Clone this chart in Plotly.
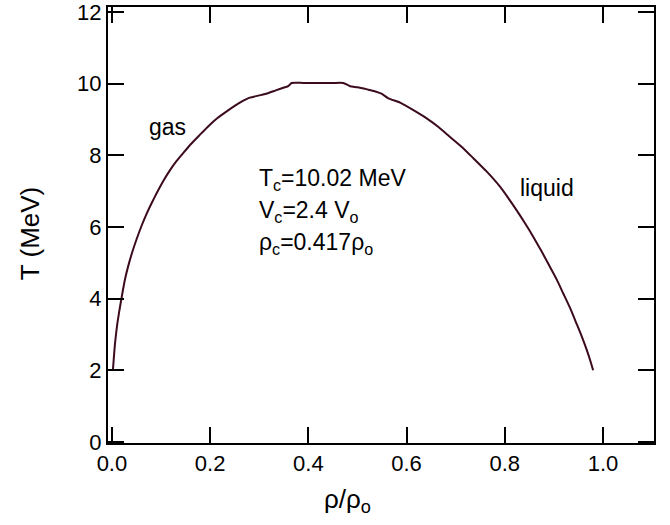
import plotly.graph_objects as go

# coexistence curve (density ratio vs temperature)
rho = [0.002, 0.006, 0.010, 0.015, 0.020, 0.026, 0.033, 0.041, 0.050, 0.060,
       0.071, 0.081, 0.091, 0.104, 0.118, 0.131, 0.145, 0.162, 0.179, 0.197,
       0.215, 0.233, 0.250, 0.264, 0.274, 0.281, 0.296, 0.312, 0.335, 0.352,
       0.359, 0.366, 0.390, 0.420, 0.450, 0.471, 0.485, 0.500, 0.520, 0.535,
       0.549, 0.563, 0.587, 0.614, 0.641, 0.665, 0.688, 0.712, 0.736, 0.763,
       0.790, 0.807, 0.824, 0.841, 0.858, 0.875, 0.892, 0.906, 0.919, 0.933,
       0.946, 0.957, 0.967, 0.974, 0.980]
temp = [2.0, 2.7, 3.2, 3.65, 4.05, 4.5, 4.9, 5.28, 5.65, 6.02,
        6.38, 6.67, 6.94, 7.27, 7.58, 7.83, 8.06, 8.33, 8.57, 8.82,
        9.04, 9.22, 9.38, 9.50, 9.57, 9.61, 9.66, 9.71, 9.82, 9.90,
        9.93, 10.02, 10.02, 10.02, 10.02, 10.02, 9.93, 9.90, 9.84, 9.79,
        9.72, 9.59, 9.47, 9.26, 9.03, 8.79, 8.52, 8.24, 7.92, 7.55,
        7.13, 6.81, 6.47, 6.11, 5.73, 5.32, 4.89, 4.53, 4.15, 3.74,
        3.31, 2.94, 2.57, 2.28, 2.0]

x_ticks = [0.0, 0.2, 0.4, 0.6, 0.8, 1.0]
y_ticks = [0, 2, 4, 6, 8, 10, 12]

FONT = "Liberation Sans, Arial, Helvetica, sans-serif"

fig = go.Figure()
fig.add_trace(go.Scatter(x=rho, y=temp, mode="lines",
                         line=dict(color="#3c0a1e", width=2, shape="spline", smoothing=0.6),
                         showlegend=False, hoverinfo="skip"))

axis_common = dict(showgrid=False, zeroline=False, showline=True,
                   linecolor="black", linewidth=2, mirror="ticks",
                   ticks="inside", ticklen=16, tickwidth=2, tickcolor="black",
                   automargin=False, ticklabeloverflow="allow",
                   tickfont=dict(family=FONT, size=22, color="black"))

fig.update_xaxes(range=[-0.008, 1.104], tickvals=x_ticks,
                 ticktext=[f"{v:.1f}" for v in x_ticks], **axis_common)
fig.update_yaxes(range=[-0.03, 12.14], tickvals=y_ticks,
                 ticktext=[str(v) for v in y_ticks], **axis_common)

title_font = dict(family=FONT, size=26, color="black")
# axis titles
fig.add_annotation(xref="x", yref="paper", x=0.48, y=0, yshift=-57,
                   text="ρ/ρ<sub>o</sub>", showarrow=False, font=title_font,
                   xanchor="center", yanchor="middle")
fig.add_annotation(xref="paper", yref="paper", x=0, y=0.479, xshift=-78,
                   text="T (MeV)", textangle=-90, showarrow=False, font=title_font,
                   xanchor="center", yanchor="middle")

ann_font = dict(family=FONT, size=23, color="black")
fig.add_annotation(x=0.114, y=8.79, text="gas", showarrow=False, font=ann_font,
                   xanchor="center", yanchor="middle")
fig.add_annotation(x=0.887, y=7.09, text="liquid", showarrow=False, font=ann_font,
                   xanchor="center", yanchor="middle")
fig.add_annotation(x=0.295, y=7.33, text="T<sub>c</sub>=10.02 MeV", showarrow=False,
                   font=ann_font, xanchor="left", yanchor="middle")
fig.add_annotation(x=0.295, y=6.43, text="V<sub>c</sub>=2.4 V<sub>o</sub>", showarrow=False,
                   font=ann_font, xanchor="left", yanchor="middle")
fig.add_annotation(x=0.295, y=5.53, text="ρ<sub>c</sub>=0.417ρ<sub>o</sub>", showarrow=False,
                   font=ann_font, xanchor="left", yanchor="middle")

fig.update_layout(width=670, height=525, plot_bgcolor="white", paper_bgcolor="white",
                  margin=dict(l=108, r=16, t=7, b=82, autoexpand=False),
                  font=dict(family=FONT, color="black"))

# remove the browser's default body margin so the figure sits at the page origin
fig.write_html("out.html", config={"displayModeBar": False},
               post_script="document.body.style.margin='0';document.body.style.overflow='hidden';")
